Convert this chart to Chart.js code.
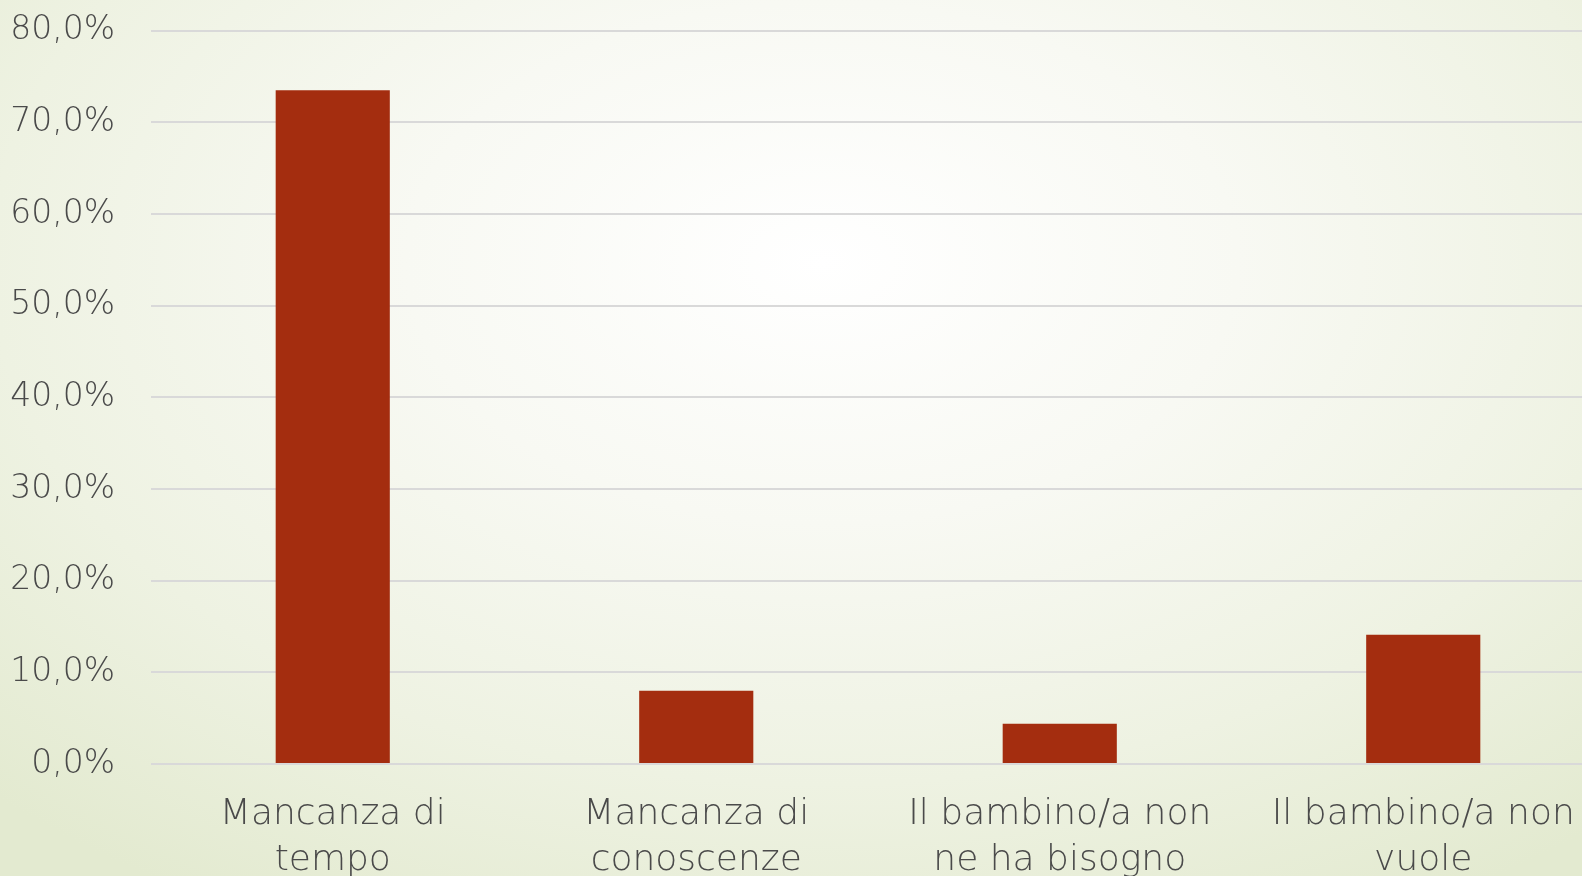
<!DOCTYPE html>
<html>
<head>
<meta charset="utf-8">
<script src="https://cdn.jsdelivr.net/npm/chart.js@4"></script>
<style>
    html, body { margin: 0; padding: 0; width: 1582px; height: 876px; overflow: hidden; }
    body { background: radial-gradient(ellipse 75% 85% at 52% 30%, #ffffff 0%, #f8f9f3 35%, #eef2e2 70%, #e3ead0 100%); }
    #chart { display: block; margin-top: -25px; }
</style>
</head>
<body>
<canvas id="chart" width="1605" height="925"></canvas>
<script>
// ===== Data =====
const categories = [
    ['Mancanza di', 'tempo'],
    ['Mancanza di', 'conoscenze'],
    ['Il bambino/a non', 'ne ha bisogno'],
    ['Il bambino/a non', 'vuole'],
];
const percentages = [73.5, 8.0, 4.4, 14.1];
const yTickLabels = ['0,0%', '10,0%', '20,0%', '30,0%', '40,0%', '50,0%', '60,0%', '70,0%', '80,0%'];

const BAR_COLOR = '#a42d0f';
const TEXT_COLOR = '#4a4a4a';
const GRID_COLOR = '#d9d9d9';
const FONT = '"Century Gothic", "URW Gothic", "DejaVu Sans", sans-serif';

new Chart(document.getElementById('chart'), {
    type: 'bar',
    data: {
        labels: categories,
        datasets: [{ data: percentages, backgroundColor: BAR_COLOR, borderWidth: 0, barPercentage: 1, categoryPercentage: 0.314 }]
    },
    options: {
        responsive: false,
        animation: false,
        layout: { padding: { top: 7, right: 0, bottom: 0, left: 0 } },
        plugins: { legend: { display: false }, tooltip: { enabled: false } },
        scales: {
            x: {
                grid: { display: false },
                border: { display: false },
                ticks: { color: TEXT_COLOR, font: { family: FONT, size: 36, weight: 200, lineHeight: 1.28 }, padding: 20, maxRotation: 0, autoSkip: false },
                afterFit: (scale) => { scale.height = 136; }
            },
            y: {
                min: 0, max: 80,
                grid: { color: GRID_COLOR, lineWidth: 2, drawTicks: false },
                border: { display: false },
                ticks: {
                    stepSize: 10, color: TEXT_COLOR, padding: 36,
                    font: { family: FONT, size: 33, weight: 200 },
                    callback: (value, index) => yTickLabels[index]
                },
                afterFit: (scale) => { scale.width = 151; }
            }
        }
    }
});
</script>
</body>
</html>
